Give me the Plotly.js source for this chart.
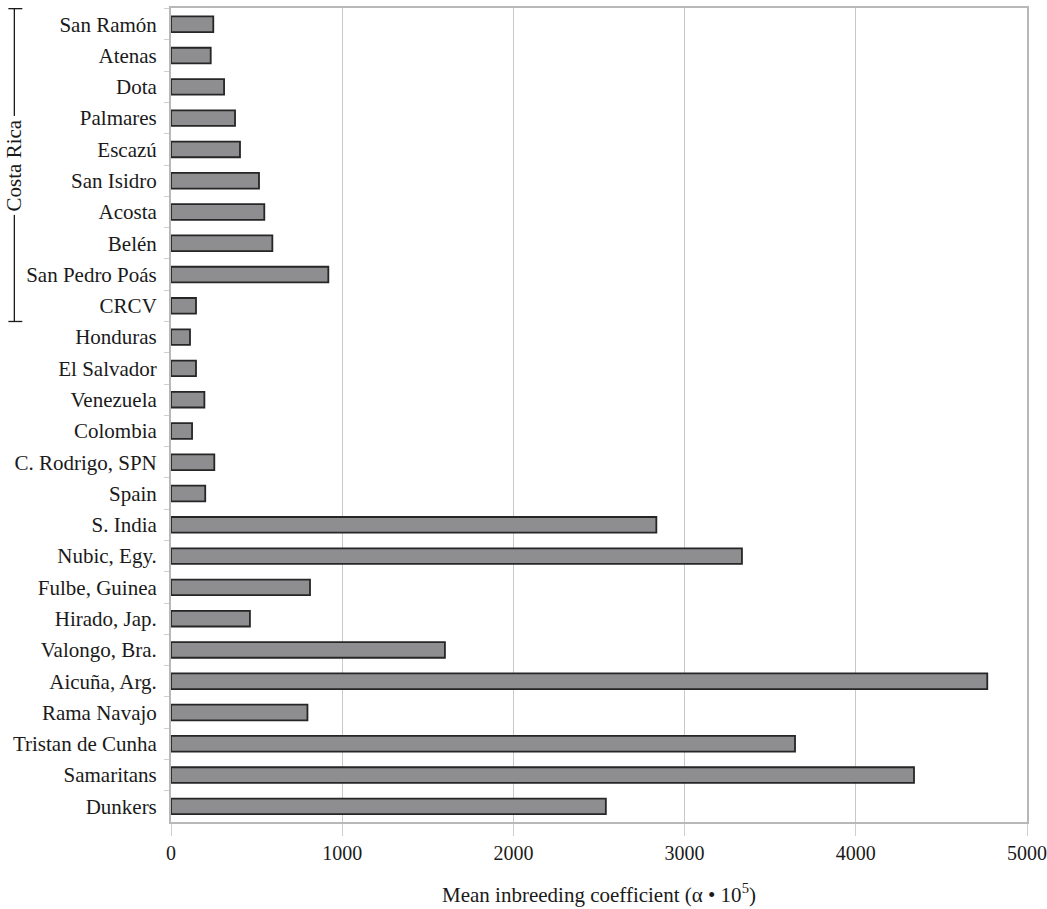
<!DOCTYPE html>
<html>
<head>
<meta charset="utf-8">
<script src="https://cdn.plot.ly/plotly-3.0.1.min.js"></script>
<style>html,body{margin:0;padding:0;background:#fff;}#chart{width:1047px;height:909px;}</style>
</head>
<body>
<div id="chart"></div>
<script>
// Categories, top to bottom
const populations = [
  "San Ramón", "Atenas", "Dota", "Palmares", "Escazú", "San Isidro", "Acosta",
  "Belén", "San Pedro Poás", "CRCV", "Honduras", "El Salvador", "Venezuela",
  "Colombia", "C. Rodrigo, SPN", "Spain", "S. India", "Nubic, Egy.",
  "Fulbe, Guinea", "Hirado, Jap.", "Valongo, Bra.", "Aicuña, Arg.",
  "Rama Navajo", "Tristan de Cunha", "Samaritans", "Dunkers"
];
// Mean inbreeding coefficient (alpha * 10^5)
const inbreeding = [
  247, 232, 310, 374, 403, 514, 545, 592, 919, 146, 111, 146, 195,
  123, 253, 200, 2835, 3335, 812, 461, 1600, 4768, 797, 3645, 4340, 2540
];
const xTicks = [0, 1000, 2000, 3000, 4000, 5000];
const groupLabel = "Costa Rica";
const groupFirst = "San Ramón";
const groupLast = "CRCV";

const serif = "Liberation Serif, Times New Roman, serif";
const iFirst = populations.indexOf(groupFirst);
const iLast = populations.indexOf(groupLast);
const bx = -0.183, tickL = 0.007, tickR = 0.0093;

const trace = {
  type: "bar",
  orientation: "h",
  y: populations,
  x: inbreeding,
  marker: {color: "#8e8e90", line: {color: "#262626", width: 1.8}},
  hoverinfo: "x+y"
};

const layout = {
  width: 1047, height: 909,
  margin: {l: 171, r: 20, t: 8, b: 87},
  paper_bgcolor: "#ffffff",
  plot_bgcolor: "#ffffff",
  bargap: 0.5,
  showlegend: false,
  font: {family: serif, color: "#1a1a1a"},
  xaxis: {
    range: [0, 5000],
    tickvals: xTicks,
    ticktext: xTicks.map(String),
    showgrid: true, gridcolor: "#c9c9c9", gridwidth: 1,
    zeroline: false,
    showline: true, linecolor: "#b8b8b8", linewidth: 2, mirror: true,
    ticks: "outside", ticklen: 12, tickcolor: "#cfcfcf", tickwidth: 1,
    tickfont: {family: serif, size: 20, color: "#1a1a1a"},
    title: {text: "Mean inbreeding coefficient (α • 10<sup>5</sup>)", font: {family: serif, size: 21, color: "#1a1a1a"}, standoff: 24}
  },
  yaxis: {
    type: "category",
    autorange: "reversed",
    showgrid: false, zeroline: false,
    showline: true, linecolor: "#b8b8b8", linewidth: 2, mirror: true,
    ticks: "outside", tickson: "boundaries", ticklen: 5, tickcolor: "#cfcfcf",
    ticklabelstandoff: 8,
    tickfont: {family: serif, size: 21, color: "#1a1a1a"}
  },
  shapes: [
    {type: "line", xref: "paper", yref: "y", x0: bx, x1: bx, y0: iFirst - 0.5, y1: iLast + 0.5, line: {color: "#1a1a1a", width: 1.3}},
    {type: "line", xref: "paper", yref: "y", x0: bx - tickL, x1: bx + tickR, y0: iFirst - 0.5, y1: iFirst - 0.5, line: {color: "#1a1a1a", width: 1.3}},
    {type: "line", xref: "paper", yref: "y", x0: bx - tickL, x1: bx + tickR, y0: iLast + 0.5, y1: iLast + 0.5, line: {color: "#1a1a1a", width: 1.3}}
  ],
  annotations: [
    {xref: "paper", yref: "y", x: bx, y: (iFirst + iLast) / 2, text: groupLabel, textangle: -90,
     showarrow: false, bgcolor: "#ffffff", borderpad: 3,
     font: {family: serif, size: 21, color: "#1a1a1a"}, xanchor: "center", yanchor: "middle"}
  ]
};

Plotly.newPlot("chart", [trace], layout, {displayModeBar: false, staticPlot: true});
</script>
</body>
</html>
